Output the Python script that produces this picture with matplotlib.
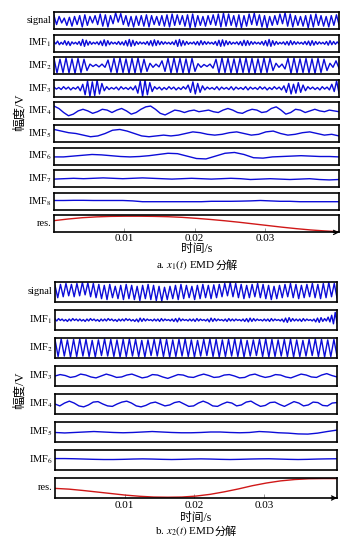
import numpy as np
import matplotlib
matplotlib.use("Agg")
import matplotlib.pyplot as plt

plt.rcParams['font.family'] = ['Liberation Serif', 'Noto Sans CJK SC']
plt.rcParams['mathtext.fontset'] = 'stix'
plt.rcParams['font.size'] = 7.5

# ==========================================================
# DATA (normalised per panel)
# ==========================================================

T_END = 0.0405
xticks = [0.01, 0.02, 0.03]

# ---- a. x1(t) ----
sig_a_pk = [0.6, 0.5, 0.3, 0.4, 0.5, 0.6, 0.7, 0.5, 0.6, 0.8, 0.7, 0.6, 0.95, 0.85, 0.6, 0.5,
            0.55, 0.6, 0.7, 0.6, 0.5, 0.6, 0.7, 0.8, 0.7, 0.6, 0.7, 0.8, 0.6, 0.5, 0.6, 0.7,
            0.8, 0.9, 0.8, 0.6, 0.7, 0.6, 0.8, 0.9, 0.7, 0.6, 0.5, 0.6, 0.8, 0.95, 0.8, 0.6,
            0.5, 0.6, 0.7, 0.8, 0.6, 0.5, 0.6, 0.7]
sig_a_tr = [-0.5, -0.3, -0.6, -0.7, -0.5, -0.8, -0.6, -0.3, -0.5, -0.7, -0.8, -0.4, -0.2, -0.5,
            -0.7, -0.8, -0.6, -0.7, -0.8, -0.5, -0.6, -0.7, -0.8, -0.6, -0.5, -0.7, -0.9, -0.8,
            -0.6, -0.7, -0.5, -0.6, -0.8, -0.7, -0.6, -0.8, -0.9, -0.7, -0.5, -0.6, -0.8, -0.9,
            -0.6, -0.5, -0.4, -0.7, -0.8, -0.6, -0.7, -0.9, -0.8, -0.6, -0.7, -0.8, -0.6, -0.5]

imf1_a_pk = [0.15, 0.25, 0.1, 0.3, 0.2, 0.15, 0.1, 0.2, 0.45, 0.35, 0.2, 0.1, 0.15, 0.25, 0.4, 0.3,
             0.15, 0.1, 0.2, 0.15, 0.3, 0.45, 0.35, 0.2, 0.15, 0.1, 0.2, 0.3, 0.4, 0.3, 0.2, 0.15,
             0.1, 0.15, 0.35, 0.45, 0.3, 0.2, 0.1, 0.15, 0.2, 0.3, 0.2, 0.15, 0.1, 0.2, 0.35, 0.4,
             0.3, 0.2, 0.1, 0.15, 0.2, 0.35, 0.3, 0.2, 0.15, 0.1, 0.2, 0.3, 0.45, 0.3, 0.2, 0.1,
             0.15, 0.2, 0.3, 0.2, 0.15, 0.1, 0.2, 0.25, 0.3, 0.2, 0.15, 0.1, 0.2, 0.3, 0.2, 0.15]
imf1_a_tr = [-0.1, -0.2, -0.15, -0.25, -0.3, -0.1, -0.15, -0.3, -0.4, -0.25, -0.15, -0.1, -0.2,
             -0.3, -0.35, -0.2, -0.1, -0.15, -0.2, -0.25, -0.35, -0.4, -0.3, -0.15, -0.1, -0.15,
             -0.25, -0.35, -0.3, -0.2, -0.15, -0.1, -0.15, -0.2, -0.4, -0.35, -0.25, -0.15, -0.1,
             -0.2, -0.25, -0.2, -0.15, -0.1, -0.15, -0.3, -0.4, -0.35, -0.2, -0.15, -0.1, -0.2,
             -0.3, -0.3, -0.25, -0.15, -0.1, -0.15, -0.25, -0.35, -0.4, -0.25, -0.15, -0.1, -0.2,
             -0.25, -0.2, -0.15, -0.1, -0.15, -0.2, -0.3, -0.25, -0.15, -0.1, -0.15, -0.25, -0.2,
             -0.15, -0.1]

imf2_a_pk = [0.9, 0.8, 0.95, 0.85, 0.9, 0.8, 0.2, 0.15, 0.2, 0.7, 0.9, 0.95, 0.85, 0.9, 0.95, 0.8,
             0.3, 0.2, 0.6, 0.9, 0.95, 0.9, 0.85, 0.9, 0.25, 0.15, 0.2, 0.8, 0.95, 0.9, 0.85, 0.9,
             0.95, 0.9, 0.85, 0.95, 0.9, 0.3, 0.2, 0.9, 0.95, 0.85, 0.9, 0.85, 0.9, 0.8, 0.3, 0.6]
imf2_a_tr = [-0.9, -0.85, -0.9, -0.95, -0.85, -0.6, -0.1, -0.15, -0.2, -0.8, -0.9, -0.85, -0.95,
             -0.9, -0.85, -0.7, -0.2, -0.15, -0.7, -0.9, -0.85, -0.9, -0.95, -0.7, -0.2, -0.1, -0.3,
             -0.9, -0.85, -0.9, -0.95, -0.85, -0.9, -0.95, -0.9, -0.85, -0.6, -0.2, -0.4, -0.95,
             -0.9, -0.85, -0.9, -0.95, -0.85, -0.6, -0.2, -0.3]

imf3_a_pk = [0.15, 0.1, 0.2, 0.15, 0.1, 0.2, 0.5, 0.9, 0.8, 1.0, 0.6, 0.2, 0.1, 0.15, 0.2, 0.1,
             0.15, 0.3, 0.9, 1.0, 0.7, 0.2, 0.15, 0.1, 0.2, 0.15, 0.1, 0.2, 0.4, 0.8, 0.6, 0.3,
             0.15, 0.1, 0.2, 0.15, 0.1, 0.2, 0.15, 0.1, 0.2, 0.15, 0.1, 0.2, 0.15, 0.1, 0.2, 0.15,
             0.3, 0.6, 0.5, 0.7, 0.4, 0.2, 0.15, 0.1, 0.2, 0.15, 0.5, 0.9]
imf3_a_tr = [-0.1, -0.15, -0.1, -0.2, -0.1, -0.3, -0.8, -1.0, -0.9, -0.7, -0.3, -0.15, -0.1, -0.2,
             -0.1, -0.15, -0.2, -0.6, -1.0, -0.8, -0.4, -0.1, -0.2, -0.15, -0.1, -0.2, -0.15, -0.1,
             -0.5, -0.7, -0.5, -0.2, -0.1, -0.15, -0.2, -0.1, -0.15, -0.2, -0.1, -0.15, -0.2, -0.1,
             -0.15, -0.1, -0.2, -0.15, -0.1, -0.2, -0.5, -0.7, -0.6, -0.5, -0.3, -0.1, -0.15, -0.2,
             -0.1, -0.2, -0.4, -0.6]

imf4_a = [0.6, 0.3, -0.2, -0.6, -0.4, 0.0, 0.2, 0.0, -0.3, -0.1, 0.2, 0.1, -0.2, 0.1, 0.3, 0.0,
          -0.4, -0.2, 0.2, 0.5, 0.6, 0.2, -0.3, -0.5, -0.2, 0.1, 0.0, -0.2, 0.0, 0.1, -0.1, 0.0,
          0.1, -0.1, -0.2, 0.1, 0.3, 0.1, -0.2, -0.3, 0.0, 0.2, 0.1, -0.2, -0.1, 0.3, 0.5, 0.1,
          -0.4, -0.2, 0.2, 0.1, -0.2, 0.0, 0.2, 0.0, -0.1, 0.1, 0.0, -0.1]

imf5_a = [0.5, 0.3, 0.1, 0.0, -0.2, -0.4, -0.3, 0.0, 0.4, 0.5, 0.3, 0.0, -0.3, -0.4, -0.3, -0.2,
          -0.3, -0.2, 0.0, 0.2, 0.1, -0.1, -0.2, -0.1, 0.1, 0.2, 0.0, -0.2, -0.1, 0.2, 0.3, 0.0,
          -0.2, -0.1, 0.1, 0.2, 0.0, -0.2, -0.1, -0.3]

imf6_a = [-0.1, -0.1, 0.0, 0.1, 0.2, 0.15, 0.05, -0.05, -0.1, -0.05, 0.05, 0.2, 0.35, 0.3, 0.0,
          -0.3, -0.35, 0.0, 0.35, 0.45, 0.2, -0.2, -0.25, -0.1, -0.05, 0.0, 0.05, 0.0, -0.05,
          -0.05, -0.1]

imf7_a = [-0.05, 0.0, 0.05, 0.0, 0.05, 0.1, 0.05, 0.0, 0.05, 0.1, 0.05, 0.0, -0.05, 0.0, 0.05,
          0.0, -0.05, 0.0, 0.05, 0.0, -0.1, -0.05, 0.0, -0.05, -0.1, -0.05, 0.0, -0.1, -0.15, -0.1]

imf8_a = [0.1, 0.1, 0.12, 0.12, 0.1, 0.1, 0.1, 0.1, 0.05, -0.05, -0.05, -0.05, -0.05, -0.05,
          -0.05, -0.05, 0.0, 0.0, 0.0, 0.02, 0.05, 0.1, 0.05, 0.0, 0.0, -0.05, -0.05, -0.05,
          -0.05, -0.05]

res_a = [0.70, 0.80, 0.88, 0.93, 0.96, 0.97, 0.97, 0.96, 0.94, 0.90, 0.84, 0.77, 0.69, 0.60,
         0.50, 0.40, 0.30, 0.21, 0.13, 0.07, 0.02]

# ---- b. x2(t) ----
sig_b_pk = [0.7, 0.8, 0.9, 0.8, 0.9, 1.0, 0.95, 0.9, 0.8, 0.7, 0.8, 0.6, 0.7, 0.8, 0.7, 0.6,
            0.7, 0.8, 0.7, 0.6, 0.5, 0.6, 0.7, 0.8, 0.7, 0.6, 0.7, 0.8, 0.7, 0.75, 0.8, 0.9,
            1.0, 0.9, 0.8, 0.7, 0.8, 0.9, 0.8, 0.7, 0.6, 0.7, 0.8, 0.9, 0.8, 0.7, 0.8, 0.9,
            0.8, 0.9, 1.0, 0.9]
sig_b_tr = [-0.6, -0.5, -0.4, -0.5, -0.4, -0.3, -0.5, -0.6, -0.7, -0.8, -0.6, -0.7, -0.8, -0.7,
            -0.8, -0.9, -0.7, -0.8, -0.9, -0.95, -0.8, -0.7, -0.8, -0.7, -0.6, -0.8, -0.7, -0.6,
            -0.7, -0.6, -0.5, -0.4, -0.5, -0.6, -0.7, -0.6, -0.5, -0.6, -0.7, -0.8, -0.7, -0.6,
            -0.5, -0.6, -0.7, -0.6, -0.5, -0.6, -0.7, -0.6, -0.5, -0.6]

imf1_b_pk = [0.1, 0.15, 0.1, 0.05, 0.1, 0.15, 0.1, 0.1, 0.05, 0.1, 0.15, 0.1, 0.05, 0.1, 0.1,
             0.15, 0.1, 0.05, 0.1, 0.1, 0.15, 0.1, 0.05, 0.1, 0.2, 0.15, 0.1, 0.05, 0.1, 0.1,
             0.15, 0.1, 0.05, 0.1, 0.15, 0.2, 0.1, 0.05, 0.1, 0.1, 0.15, 0.1, 0.05, 0.1, 0.2,
             0.15, 0.1, 0.05, 0.1, 0.15, 0.1, 0.1, 0.05, 0.1, 0.15, 0.2, 0.15, 0.1, 0.05, 0.1,
             0.1, 0.15, 0.1, 0.05, 0.1, 0.2, 0.25, 0.15, 0.1, 0.1, 0.15, 0.1, 0.05, 0.1, 0.2,
             0.25, 0.15, 0.3, 0.5, 0.8]
imf1_b_tr = [-0.1, -0.05, -0.1, -0.15, -0.1, -0.05, -0.1, -0.1, -0.15, -0.1, -0.05, -0.1, -0.15,
             -0.1, -0.1, -0.05, -0.1, -0.15, -0.1, -0.1, -0.05, -0.1, -0.15, -0.2, -0.15, -0.1,
             -0.05, -0.1, -0.1, -0.15, -0.1, -0.05, -0.1, -0.15, -0.2, -0.1, -0.05, -0.1, -0.1,
             -0.15, -0.1, -0.05, -0.1, -0.2, -0.15, -0.1, -0.05, -0.1, -0.15, -0.1, -0.1, -0.05,
             -0.1, -0.15, -0.2, -0.15, -0.1, -0.05, -0.1, -0.1, -0.15, -0.1, -0.05, -0.1, -0.2,
             -0.25, -0.15, -0.1, -0.1, -0.15, -0.1, -0.05, -0.1, -0.2, -0.25, -0.15, -0.1, -0.2,
             -0.4, -0.3]

imf2_b_pk = [0.9, 0.95, 0.85, 0.9, 0.95, 0.9, 0.8, 0.85, 0.95, 0.9, 0.85, 0.9, 0.95, 0.9, 0.8,
             0.85, 0.9, 0.95, 0.9, 0.85, 0.9, 0.95, 0.85, 0.8, 0.9, 0.95, 0.9, 0.85, 0.9, 0.95,
             0.9, 0.8, 0.85, 0.9, 0.95, 0.9, 0.85, 0.9, 0.95, 0.85, 0.8, 0.9, 0.95, 0.9, 0.85, 0.9]
imf2_b_tr = [-0.9, -0.85, -0.95, -0.9, -0.85, -0.9, -0.95, -0.8, -0.85, -0.9, -0.95, -0.9, -0.85,
             -0.9, -0.95, -0.8, -0.85, -0.9, -0.95, -0.9, -0.85, -0.9, -0.95, -0.85, -0.8, -0.9,
             -0.95, -0.9, -0.85, -0.9, -0.95, -0.85, -0.8, -0.9, -0.95, -0.9, -0.85, -0.9, -0.95,
             -0.9, -0.85, -0.8, -0.9, -0.95, -0.9, -0.85]

imf3_b = [0.0, 0.15, 0.05, -0.15, -0.05, 0.2, 0.1, -0.1, -0.2, 0.0, 0.2, 0.05, -0.15, -0.1, 0.1,
          0.2, 0.0, -0.2, -0.1, 0.15, 0.1, -0.1, -0.25, -0.05, 0.15, 0.1, -0.1, -0.15, 0.05, 0.2,
          0.05, -0.15, -0.1, 0.1, 0.15, 0.0, -0.2, -0.15, 0.1, 0.2, 0.0, -0.15, -0.05, 0.15, 0.1,
          -0.1, -0.2, 0.0, 0.2, 0.1, -0.1, -0.15, 0.1, 0.25, 0.05, -0.1]

imf4_b = [0.0, -0.2, 0.1, 0.3, 0.1, -0.2, -0.3, -0.1, 0.2, 0.25, 0.0, -0.2, -0.25, 0.0, 0.2, 0.3,
          0.1, -0.2, -0.3, -0.15, 0.1, 0.2, 0.0, -0.2, -0.1, 0.15, 0.25, 0.0, -0.25, -0.2, 0.1,
          0.3, 0.1, -0.2, -0.25, 0.0, 0.2, 0.1, -0.2, -0.1, 0.2, 0.3, 0.0, -0.25, -0.15, 0.15, 0.2,
          -0.05, -0.25, 0.0, 0.25, 0.1, -0.2, -0.1, 0.2, 0.15, -0.15, -0.2, 0.1, 0.15]

imf5_b = [-0.05, -0.1, -0.05, 0.0, 0.05, 0.0, -0.05, -0.08, -0.05, 0.0, 0.05, 0.0, -0.05, -0.08,
          -0.08, -0.05, 0.0, 0.0, -0.05, -0.08, -0.05, 0.05, 0.0, -0.08, -0.12, -0.2, -0.22, -0.12,
          0.05, 0.2]

imf6_b = [0.15, 0.15, 0.13, 0.1, 0.07, 0.05, 0.05, 0.07, 0.1, 0.12, 0.1, 0.07, 0.05, 0.07, 0.1,
          0.12, 0.1, 0.07, 0.05, 0.07, 0.1, 0.12, 0.13, 0.1, 0.07, 0.05, 0.07, 0.1, 0.12, 0.13]

res_b = [0.48, 0.44, 0.37, 0.29, 0.21, 0.13, 0.07, 0.03, 0.02, 0.03, 0.08, 0.17, 0.30, 0.45,
         0.62, 0.76, 0.87, 0.94, 0.98, 0.99, 0.99]


def zigzag(peaks, troughs):
    out = []
    for p, q in zip(peaks, troughs):
        out += [p, q]
    return out


labels_a = ["signal"] + [f"IMF$_{i}$" for i in range(1, 9)] + ["res."]
series_a = [zigzag(sig_a_pk, sig_a_tr), zigzag(imf1_a_pk, imf1_a_tr),
            zigzag(imf2_a_pk, imf2_a_tr), zigzag(imf3_a_pk, imf3_a_tr),
            imf4_a, imf5_a, imf6_a, imf7_a, imf8_a, res_a]

labels_b = ["signal"] + [f"IMF$_{i}$" for i in range(1, 7)] + ["res."]
series_b = [zigzag(sig_b_pk, sig_b_tr), zigzag(imf1_b_pk, imf1_b_tr),
            zigzag(imf2_b_pk, imf2_b_tr), imf3_b, imf4_b, imf5_b, imf6_b, res_b]

# ==========================================================
# FIGURE
# ==========================================================

W, H = 357, 545
fig = plt.figure(figsize=(W / 100, H / 100), dpi=100)
BLUE = "#0c0cd8"
RED = "#d01818"


def draw_block(labels, series, top, pitch, height, left, right, tick_pad):
    n = len(series)
    for k, (lab, vals) in enumerate(zip(labels, series)):
        y0 = top + k * pitch
        ax = fig.add_axes([left / W, 1 - (y0 + height) / H, (right - left) / W, height / H])
        t = np.linspace(0, T_END, len(vals))
        is_res = k == n - 1
        ax.plot(t, vals, color=RED if is_res else BLUE, lw=1.0)
        ax.set_xlim(0, T_END)
        if is_res:
            ax.set_ylim(-0.02, 1.02)
        else:
            ax.set_ylim(-1.05, 1.05)
        for s in ax.spines.values():
            s.set_linewidth(1.2)
        ax.set_yticks([])
        if is_res:
            ax.set_xticks(xticks)
            ax.set_xticklabels([f"{v:.2f}" for v in xticks], fontsize=8)
            ax.tick_params(axis="x", direction="in", length=3, width=0.6,
                           color="#888888", pad=tick_pad)
            ax.annotate("", xy=(1.01, 0), xytext=(0.97, 0), xycoords="axes fraction",
                        arrowprops=dict(arrowstyle="->", lw=0.9, color="black"))
        else:
            ax.set_xticks([])
        ax.text(-0.008, 0.5, lab, transform=ax.transAxes, ha="right", va="center")


def caption(xc, yc, prefix, tail, size):
    # mathtext cannot fall back to the CJK font, so the Chinese tail is its own text
    renderer = fig.canvas.get_renderer()
    t1 = fig.text(0, 1 - yc / H, prefix, ha="left", va="center", fontsize=size)
    t2 = fig.text(0, 1 - yc / H, tail, ha="left", va="center", fontsize=size)
    w1 = t1.get_window_extent(renderer).width
    w2 = t2.get_window_extent(renderer).width
    x0 = xc - (w1 + w2) / 2
    t1.set_x(x0 / W)
    t2.set_x((x0 + w1) / W)


draw_block(labels_a, series_a, top=12, pitch=22.6, height=17, left=54, right=339, tick_pad=1.5)
draw_block(labels_b, series_b, top=282, pitch=28, height=20, left=55, right=337, tick_pad=2.5)

fig.text(20 / W, 1 - 112 / H, "幅度/V", rotation=90, ha="center", va="center", fontsize=9)
fig.text(20 / W, 1 - 390 / H, "幅度/V", rotation=90, ha="center", va="center", fontsize=9)

fig.text(197 / W, 1 - 249 / H, "时间/s", ha="center", va="center", fontsize=8.5)
caption(197, 265, "a. $x_1(t)$ EMD", "分解", 8)
fig.text(196 / W, 1 - 518 / H, "时间/s", ha="center", va="center", fontsize=8.5)
caption(196, 531, "b. $x_2(t)$ EMD", "分解", 8)

fig.savefig("out.png", dpi=100)
